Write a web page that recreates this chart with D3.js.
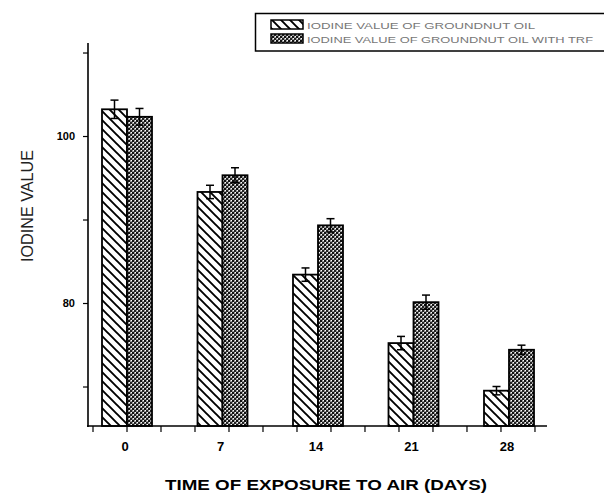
<!DOCTYPE html>
<html><head><meta charset="utf-8">
<script src="https://cdn.jsdelivr.net/npm/d3@7"></script>
<style>body{margin:0;background:#fff}svg{display:block}</style>
</head><body>
<script>
const days = ["0","7","14","21","28"];
const seriesNames = ["IODINE VALUE OF GROUNDNUT OIL","IODINE VALUE OF GROUNDNUT OIL WITH TRF"];
const plain = [103.2, 93.3, 83.4, 75.2, 69.5];
const plainErr = [1.1, 0.8, 0.8, 0.8, 0.5];
const trf = [102.3, 95.3, 89.3, 80.1, 74.4];
const trfErr = [1.0, 0.9, 0.8, 0.85, 0.55];
const yTicks = [70, 80, 90, 100, 110];
const yLabeled = [80, 100];
const xMinorTicks = [-0.356,0,0.356,0.712,1.068,1.424,1.78,2.136,2.492,2.848,3.204,3.56,3.916,4.272];

const W = 604, H = 493;
const svg = d3.select("body").append("svg").attr("width", W).attr("height", H);
const defs = svg.append("defs");
const p1 = defs.append("pattern").attr("id","hatch").attr("patternUnits","userSpaceOnUse")
  .attr("width",9).attr("height",9);
p1.append("rect").attr("width",9).attr("height",9).attr("fill","#fff");
p1.append("path").attr("d","M-2,-2 L11,11 M-2,7 L2,11 M7,-2 L11,2").attr("stroke","#000").attr("stroke-width",1.9);
const p2 = defs.append("pattern").attr("id","mesh").attr("patternUnits","userSpaceOnUse")
  .attr("width",4).attr("height",4);
p2.append("rect").attr("width",4).attr("height",4).attr("fill","#999");
p2.append("rect").attr("width",2).attr("height",2).attr("fill","#111");
p2.append("rect").attr("x",2).attr("y",2).attr("width",2).attr("height",2).attr("fill","#222");
p2.append("rect").attr("x",3).attr("y",0).attr("width",1).attr("height",1).attr("fill","#fff");
p2.append("rect").attr("x",1).attr("y",2).attr("width",1).attr("height",1).attr("fill","#fff");

const axX0 = 88, axX1 = 547, axY = 426, axTop = 43;
const y = d3.scaleLinear().domain([65.27, 111.14]).range([axY, axTop]);
const xc = d3.scalePoint().domain(days).range([127, 509]);
const xi = d3.scaleLinear().domain([0, 4]).range([127, 509]);
const xs = d3.scaleBand().domain([0,1]).range([-25, 25]);

const data = [
  {vals: plain, errs: plainErr, fill: "url(#hatch)"},
  {vals: trf, errs: trfErr, fill: "url(#mesh)"}
];

data.forEach((s, si) => {
  const g = svg.append("g");
  g.selectAll("rect").data(days).join("rect")
    .attr("x", d => xc(d) + xs(si))
    .attr("width", xs.bandwidth())
    .attr("y", (d,i) => y(s.vals[i]))
    .attr("height", (d,i) => axY - y(s.vals[i]))
    .attr("fill", s.fill).attr("stroke","#000").attr("stroke-width",1.8);
  const eg = g.append("g").attr("stroke","#000").attr("stroke-width",1.5);
  days.forEach((d,i) => {
    const cx = xc(d) + xs(si) + xs.bandwidth()/2;
    const yt = y(s.vals[i] + s.errs[i]), yb = y(s.vals[i] - s.errs[i]);
    eg.append("line").attr("x1",cx).attr("x2",cx).attr("y1",yt).attr("y2",yb);
    eg.append("line").attr("x1",cx-4).attr("x2",cx+4).attr("y1",yt).attr("y2",yt);
    eg.append("line").attr("x1",cx-4).attr("x2",cx+4).attr("y1",yb).attr("y2",yb);
  });
});

const yAxis = d3.axisLeft(y).tickValues(yTicks).tickSize(5).tickSizeOuter(0)
  .tickFormat(v => yLabeled.includes(v) ? String(v) : "");
const ga = svg.append("g").attr("transform", `translate(${axX0},0)`).call(yAxis);
ga.select(".domain").remove();
ga.selectAll("line").attr("stroke","#000").attr("stroke-width",1.2);
ga.selectAll("text").attr("font-family","Liberation Sans, Arial, sans-serif")
  .attr("font-weight","bold").attr("font-size",11).attr("fill","#000").attr("x",-13);
svg.append("line").attr("x1",axX0).attr("x2",axX0).attr("y1",axTop).attr("y2",axY+1)
  .attr("stroke","#000").attr("stroke-width",1.6);

svg.append("line").attr("x1",axX0-1).attr("x2",axX1).attr("y1",axY).attr("y2",axY)
  .attr("stroke","#000").attr("stroke-width",1.6);
svg.append("g").selectAll("line").data(xMinorTicks).join("line")
  .attr("x1", d => xi(d)).attr("x2", d => xi(d)).attr("y1", axY).attr("y2", axY + 6)
  .attr("stroke","#000").attr("stroke-width",1.2);
svg.append("g").selectAll("text").data(days).join("text")
  .attr("x", d => xc(d) - 2).attr("y", 451).attr("text-anchor","middle")
  .attr("font-family","Liberation Sans, Arial, sans-serif").attr("font-weight","bold")
  .attr("font-size",13).text(d => d);

svg.append("text").attr("transform","translate(33,206) rotate(-90)")
  .attr("text-anchor","middle").attr("font-family","Liberation Sans Narrow, Liberation Sans, Arial, sans-serif")
  .attr("font-size",17).attr("fill","#222").attr("textLength",112).attr("lengthAdjust","spacingAndGlyphs")
  .text("IODINE VALUE");
svg.append("text").attr("x",326).attr("y",490).attr("text-anchor","middle")
  .attr("font-family","Liberation Sans, Arial, sans-serif").attr("font-weight","bold")
  .attr("font-size",14).attr("textLength",322).attr("lengthAdjust","spacingAndGlyphs")
  .text("TIME OF EXPOSURE TO AIR (DAYS)");

const lg = svg.append("g");
lg.append("rect").attr("x",255.5).attr("y",13.5).attr("width",360).attr("height",37.5)
  .attr("fill","#fff").attr("stroke","#000").attr("stroke-width",1.5);
const legFills = ["url(#hatch)","url(#mesh)"];
const legEnds = [535, 593];
seriesNames.forEach((n,i) => {
  const ry = 20 + i*14;
  lg.append("rect").attr("x",271).attr("y",ry).attr("width",32).attr("height",9)
    .attr("fill",legFills[i]).attr("stroke","#000").attr("stroke-width",1.5);
  lg.append("text").attr("x",307).attr("y",ry+8.5).attr("font-family","Liberation Sans, Arial, sans-serif")
    .attr("font-size",9.5).attr("fill","#777").attr("textLength",legEnds[i]-307)
    .attr("lengthAdjust","spacingAndGlyphs").text(n);
});
</script>
</body></html>
